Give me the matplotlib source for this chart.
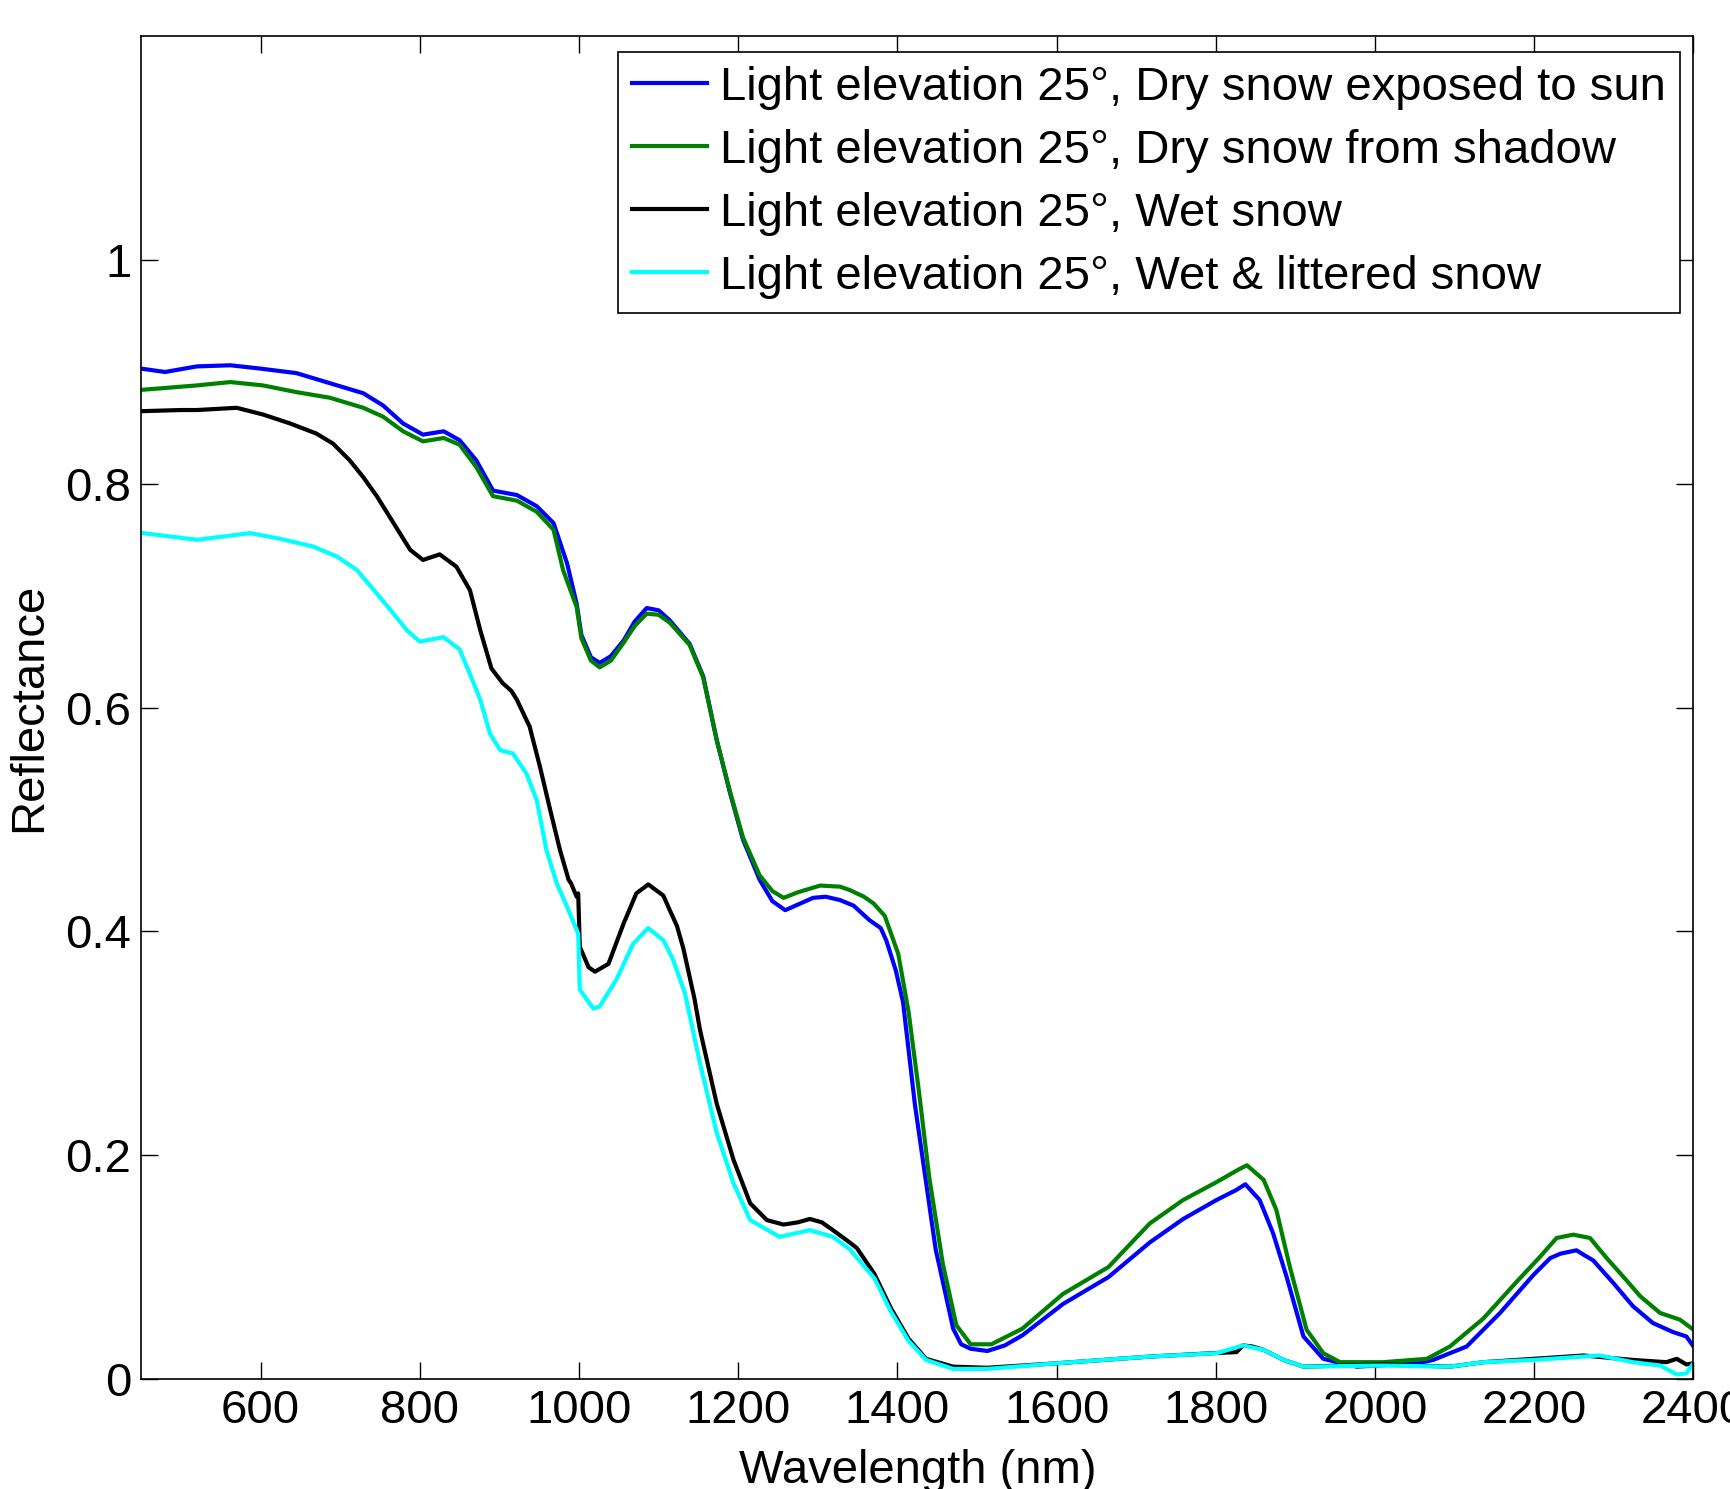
"""
Snow reflectance spectra at 25 degree light elevation.
"""

import matplotlib
matplotlib.use("Agg")
import matplotlib.pyplot as plt

# wavelength (nm) and reflectance
wl_sun = [450, 480, 520, 562, 600, 645, 687, 729, 754, 779, 804, 830, 850, 871,
          892, 922, 947, 968, 985, 997, 1003, 1015, 1026, 1040, 1056, 1070, 1085,
          1100, 1114, 1139, 1156, 1173, 1190, 1206, 1227, 1243, 1259, 1275, 1294,
          1310, 1328, 1345, 1365, 1379, 1386, 1398, 1407, 1422, 1448, 1470, 1480,
          1492, 1513, 1535, 1557, 1608, 1665, 1717, 1759, 1801, 1826, 1837, 1855,
          1872, 1889, 1910, 1935, 1977, 2052, 2073, 2094, 2115, 2136, 2157, 2178,
          2199, 2220, 2233, 2253, 2262, 2274, 2299, 2324, 2349, 2374, 2391, 2400]
refl_sun = [0.903, 0.900, 0.905, 0.906, 0.903, 0.899, 0.890, 0.881, 0.870, 0.854,
            0.844, 0.847, 0.839, 0.821, 0.794, 0.790, 0.780, 0.765, 0.729, 0.693,
            0.665, 0.645, 0.640, 0.646, 0.660, 0.677, 0.689, 0.687, 0.678, 0.657,
            0.628, 0.571, 0.523, 0.482, 0.446, 0.427, 0.419, 0.424, 0.430, 0.431,
            0.428, 0.423, 0.410, 0.403, 0.392, 0.365, 0.337, 0.245, 0.116, 0.045,
            0.031, 0.027, 0.025, 0.030, 0.039, 0.067, 0.091, 0.122, 0.143, 0.160,
            0.169, 0.174, 0.160, 0.130, 0.091, 0.038, 0.018, 0.011, 0.014, 0.017,
            0.023, 0.029, 0.044, 0.059, 0.076, 0.093, 0.108, 0.112, 0.115, 0.111,
            0.106, 0.086, 0.065, 0.050, 0.042, 0.038, 0.029]

wl_shadow = [450, 520, 562, 603, 645, 687, 729, 754, 779, 804, 830, 850, 871, 892,
             922, 947, 968, 980, 997, 1003, 1015, 1026, 1040, 1056, 1070, 1085, 1100,
             1114, 1139, 1156, 1173, 1190, 1206, 1227, 1243, 1257, 1275, 1303, 1328,
             1340, 1358, 1370, 1384, 1401, 1414, 1427, 1440, 1457, 1474, 1492, 1518,
             1557, 1608, 1665, 1717, 1759, 1801, 1828, 1839, 1860, 1876, 1893, 1914,
             1935, 1956, 2010, 2065, 2094, 2136, 2178, 2207, 2228, 2249, 2270, 2291,
             2316, 2333, 2358, 2383, 2400]
refl_shadow = [0.884, 0.888, 0.891, 0.888, 0.882, 0.877, 0.868, 0.860, 0.847, 0.838,
               0.841, 0.835, 0.815, 0.789, 0.785, 0.775, 0.759, 0.723, 0.690, 0.662,
               0.642, 0.636, 0.642, 0.658, 0.673, 0.684, 0.683, 0.676, 0.656, 0.627,
               0.571, 0.524, 0.484, 0.450, 0.436, 0.430, 0.435, 0.441, 0.440, 0.437,
               0.431, 0.425, 0.414, 0.380, 0.328, 0.257, 0.180, 0.103, 0.048, 0.031,
               0.031, 0.045, 0.076, 0.100, 0.139, 0.160, 0.176, 0.187, 0.191, 0.178,
               0.151, 0.100, 0.044, 0.023, 0.015, 0.015, 0.018, 0.029, 0.054, 0.087,
               0.109, 0.126, 0.129, 0.126, 0.108, 0.088, 0.074, 0.059, 0.053, 0.044]

wl_wet = [452, 500, 520, 570, 603, 637, 670, 691, 712, 729, 746, 767, 788, 804,
          825, 846, 863, 876, 890, 904, 915, 922, 938, 951, 964, 976, 987, 990,
          997, 999, 1001, 1003, 1012, 1020, 1037, 1056, 1072, 1087, 1106, 1114,
          1123, 1131, 1145, 1152, 1173, 1194, 1215, 1236, 1257, 1275, 1290, 1305,
          1319, 1340, 1349, 1371, 1392, 1414, 1436, 1470, 1513, 1600, 1717, 1795,
          1826, 1834, 1846, 1860, 1885, 1910, 2010, 2094, 2136, 2199, 2262, 2324,
          2366, 2379, 2391, 2400]
refl_wet = [0.865, 0.866, 0.866, 0.868, 0.862, 0.854, 0.845, 0.836, 0.821, 0.806,
            0.789, 0.765, 0.741, 0.732, 0.737, 0.726, 0.705, 0.669, 0.635, 0.622,
            0.615, 0.607, 0.583, 0.547, 0.508, 0.473, 0.446, 0.443, 0.431, 0.434,
            0.386, 0.383, 0.368, 0.364, 0.371, 0.407, 0.434, 0.442, 0.432, 0.419,
            0.405, 0.385, 0.340, 0.312, 0.246, 0.196, 0.157, 0.142, 0.138, 0.140,
            0.143, 0.140, 0.133, 0.122, 0.117, 0.094, 0.063, 0.036, 0.018, 0.011,
            0.010, 0.014, 0.020, 0.023, 0.024, 0.030, 0.029, 0.026, 0.017, 0.011,
            0.013, 0.011, 0.015, 0.018, 0.021, 0.017, 0.015, 0.018, 0.013, 0.014]

wl_litter = [452, 520, 587, 624, 666, 696, 721, 746, 767, 784, 800, 830, 850, 863,
             876, 888, 901, 917, 934, 947, 959, 972, 985, 999, 1001, 1018, 1026,
             1047, 1068, 1087, 1106, 1118, 1133, 1152, 1173, 1194, 1215, 1252, 1290,
             1319, 1340, 1371, 1392, 1414, 1436, 1470, 1513, 1600, 1717, 1801, 1834,
             1860, 1885, 1910, 2010, 2094, 2136, 2199, 2282, 2324, 2358, 2379, 2391,
             2400]
refl_litter = [0.756, 0.750, 0.756, 0.751, 0.744, 0.735, 0.723, 0.702, 0.684, 0.669,
               0.659, 0.663, 0.652, 0.630, 0.607, 0.577, 0.562, 0.559, 0.541, 0.517,
               0.473, 0.443, 0.422, 0.398, 0.348, 0.331, 0.333, 0.357, 0.389, 0.403,
               0.392, 0.375, 0.345, 0.282, 0.220, 0.175, 0.142, 0.127, 0.133, 0.127,
               0.116, 0.090, 0.060, 0.034, 0.017, 0.009, 0.009, 0.014, 0.020, 0.023,
               0.030, 0.026, 0.017, 0.011, 0.012, 0.011, 0.015, 0.017, 0.021, 0.015,
               0.012, 0.004, 0.005, 0.014]

labels = ["Light elevation 25\u00b0, Dry snow exposed to sun",
          "Light elevation 25\u00b0, Dry snow from shadow",
          "Light elevation 25\u00b0, Wet snow",
          "Light elevation 25\u00b0, Wet & littered snow"]

plt.rcParams["font.family"] = ["Liberation Sans", "DejaVu Sans"]

fig = plt.figure(figsize=(17.3, 14.89), dpi=100)
ax = fig.add_axes([0.0816, 0.0739, 0.8973, 0.9017])

lw = 3
ax.plot(wl_sun, refl_sun, color="#0000ff", lw=lw, label=labels[0])
ax.plot(wl_shadow, refl_shadow, color="#008000", lw=lw, label=labels[1])
ax.plot(wl_wet, refl_wet, color="black", lw=lw, label=labels[2])
ax.plot(wl_litter, refl_litter, color="#00ffff", lw=lw, label=labels[3])

ax.set_xlim(450, 2400)
ax.set_ylim(0, 1.2)
ax.set_xticks(range(600, 2401, 200))
ax.set_yticks([0, 0.2, 0.4, 0.6, 0.8, 1])
ax.set_yticklabels(["0", "0.2", "0.4", "0.6", "0.8", "1"])
ax.tick_params(direction="in", length=12, width=1, top=True, right=True,
               labelsize=34, pad=7)
for s in ax.spines.values():
    s.set_linewidth(1.2)

ax.set_xlabel("Wavelength (nm)", fontsize=34, labelpad=12)
ax.set_ylabel("Reflectance", fontsize=34, labelpad=10)

leg = ax.legend(loc="upper right", bbox_to_anchor=(0.9914, 0.9885),
                borderaxespad=0, fontsize=34, fancybox=False, framealpha=1,
                edgecolor="black", handlelength=1.6, handletextpad=0.27,
                labelspacing=0.4, borderpad=0.3)
leg.get_frame().set_linewidth(1.2)

fig.savefig("out.png", dpi=100)
